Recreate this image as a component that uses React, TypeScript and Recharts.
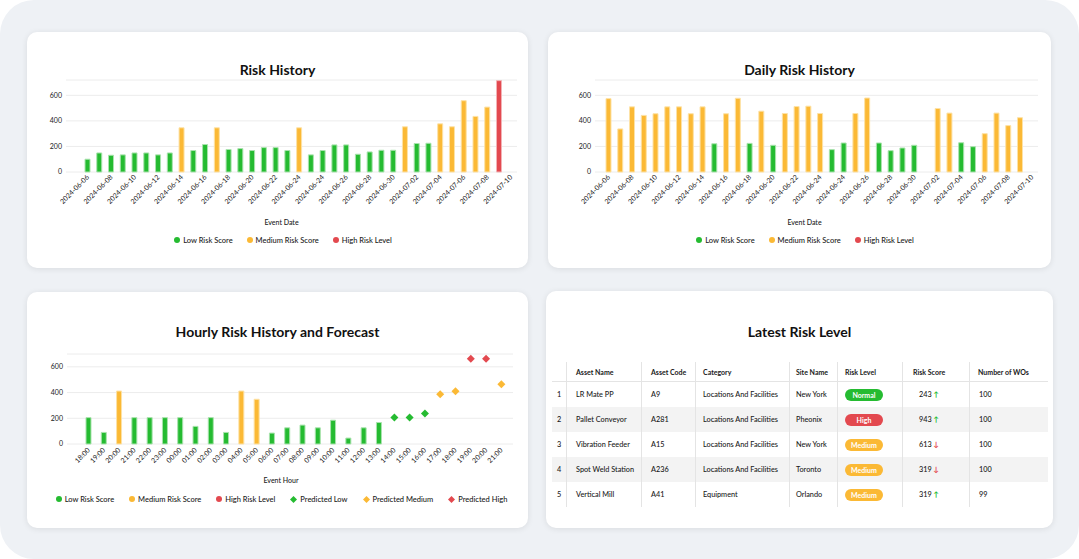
import {
  BarChart,
  Bar,
  ComposedChart,
  Scatter,
  XAxis,
  YAxis,
  CartesianGrid,
  Legend,
} from "recharts";

const FONT = "Lato, 'Open Sans', sans-serif";
const GREEN = "#25bb31";
const ORANGE = "#fbb935";
const RED = "#e3494f";
const TEXT = "#1a1a1a";
const GRID = "#ececec";

// date labels, one on every other slot of the daily charts
const dateTicks = [
  "2024-06-06", "2024-06-08", "2024-06-10", "2024-06-12", "2024-06-14",
  "2024-06-16", "2024-06-18", "2024-06-20", "2024-06-22", "2024-06-24",
  "2024-06-24", "2024-06-26", "2024-06-28", "2024-06-30", "2024-07-02",
  "2024-07-04", "2024-07-06", "2024-07-08", "2024-07-10",
];

// Risk History scores per slot
const riskHistoryScores = [
  100, 149, 131, 134, 149, 149, 134, 149, 346, 168, 215, 346, 176, 183, 168,
  191, 191, 168, 346, 134, 168, 212, 212, 139, 157, 170, 170, 354, 223, 225,
  377, 354, 558, 435, 508, 715,
];

// Daily Risk History scores per slot (null = no record)
const dailyRiskScores = [
  574, 337, 510, 443, 456, 510, 510, 456, 510, 221, 456, 577, 224, 476, 209,
  458, 512, 515, 458, 175, 227, 458, 579, 227, 167, 188, 209, null, 497, 461,
  229, 198, 300, 461, 363, 425,
];

// Hourly history + forecast
const hours = [
  "18:00", "19:00", "20:00", "21:00", "22:00", "23:00", "00:00", "01:00",
  "02:00", "03:00", "04:00", "05:00", "06:00", "07:00", "08:00", "09:00",
  "10:00", "11:00", "12:00", "13:00", "14:00", "15:00", "16:00", "17:00",
  "18:00", "19:00", "20:00", "21:00",
];
const hourlyActual = [
  205, 90, 412, 205, 205, 205, 205, 137, 205, 90, 412, 348, 85, 126, 147, 126,
  185, 46, 126, 167,
];
const hourlyForecast = [206, 206, 237, 386, 410, 664, 664, 464];

const yTicks = [0, 200, 400, 600];

const legendOrder = [
  "Low Risk Score", "Medium Risk Score", "High Risk Level",
  "Predicted Low", "Predicted Medium", "Predicted High",
];

// table
const tableHeaders = ["", "Asset Name", "Asset Code", "Category", "Site Name", "Risk Level", "Risk Score", "Number of WOs"];
const assetNames = ["LR Mate PP", "Pallet Conveyor", "Vibration Feeder", "Spot Weld Station", "Vertical Mill"];
const assetCodes = ["A9", "A281", "A15", "A236", "A41"];
const assetCategories = ["Locations And Facilities", "Locations And Facilities", "Locations And Facilities", "Locations And Facilities", "Equipment"];
const siteNames = ["New York", "Pheonix", "New York", "Toronto", "Orlando"];
const riskLevels = ["Normal", "High", "Medium", "Medium", "Medium"];
const riskScores = [243, 943, 613, 319, 319];
const riskTrends = ["up", "up", "down", "down", "up"];
const workOrders = [100, 100, 100, 100, 99];

const levelOf = (v: number | null) =>
  v == null ? null : v >= 600 ? "high" : v >= 300 ? "medium" : "low";

const byLevel = (v: number | null) => ({
  low: levelOf(v) === "low" ? v : null,
  medium: levelOf(v) === "medium" ? v : null,
  high: levelOf(v) === "high" ? v : null,
});

const slotRows = (scores: (number | null)[]) =>
  Array.from({ length: dateTicks.length * 2 - 1 }, (_, slot) => ({
    slot,
    ...byLevel(scores[slot] ?? null),
  }));

const riskHistoryRows = slotRows(riskHistoryScores);
const dailyRiskRows = slotRows(dailyRiskScores);

const hourlyRows = hours.map((hour, i) => {
  const actual = i < hourlyActual.length ? hourlyActual[i] : null;
  const fc = i >= hourlyActual.length ? hourlyForecast[i - hourlyActual.length] : null;
  const p = byLevel(fc);
  return { hour, ...byLevel(actual), predLow: p.low, predMedium: p.medium, predHigh: p.high };
});

const levelColor: Record<string, string> = { Normal: GREEN, High: RED, Medium: ORANGE };

const DateTick = ({ x, y, payload }: any) => {
  const label = payload.value % 2 === 0 ? dateTicks[payload.value / 2] : "";
  return (
    <g transform={`translate(${x},${y})`}>
      <text x={0} y={0} dy="0.35em" textAnchor="end" transform="rotate(-45)" fontSize={7} fill={TEXT}>
        {label}
      </text>
    </g>
  );
};

const HourTick = ({ x, y, payload }: any) => {
  const label = typeof payload.value === "number" ? hours[payload.value] : payload.value;
  return (
    <g transform={`translate(${x},${y})`}>
      <text x={0} y={0} dy="0.35em" textAnchor="end" transform="rotate(-45)" fontSize={7} fill={TEXT}>
        {label}
      </text>
    </g>
  );
};

const renderDiamond = (props: any) => {
  const { cx, cy, fill } = props;
  if (cx == null || cy == null || Number.isNaN(cy)) return <g />;
  const r = 4;
  return <path d={`M${cx},${cy - r}L${cx + r},${cy}L${cx},${cy + r}L${cx - r},${cy}Z`} fill={fill} />;
};

const LegendRow = ({ payload, shift, gap }: any) => {
  const items = [...(payload || [])].sort(
    (a: any, b: any) => legendOrder.indexOf(a.value) - legendOrder.indexOf(b.value)
  );
  return (
    <div
      style={{
        display: "flex",
        justifyContent: "center",
        alignItems: "center",
        height: 12,
        gap,
        paddingLeft: shift,
        fontFamily: FONT,
        fontSize: 7.5,
        fontWeight: 500,
        color: TEXT,
      }}
    >
      {items.map((item: any) => (
        <div key={item.value} style={{ display: "flex", alignItems: "center", gap: 3 }}>
          {item.type === "diamond" ? (
            <svg width={7} height={7}>
              <path d="M3.5,0L7,3.5L3.5,7L0,3.5Z" fill={item.color} />
            </svg>
          ) : (
            <span style={{ width: 6, height: 6, borderRadius: 3, background: item.color, display: "inline-block" }} />
          )}
          <span style={{ whiteSpace: "nowrap" }}>{item.value}</span>
        </div>
      ))}
    </div>
  );
};

const barProps = (fill: string, stroke: string) => ({
  stackId: "a",
  fill,
  stroke,
  strokeWidth: 1,
  barSize: 5,
  legendType: "circle" as const,
  isAnimationActive: false,
});

const DailyChart = ({ rows, width, yWidth, marginRight, padLeft, legendShift, titleDx }: any) => (
  <BarChart width={width} height={190} data={rows} margin={{ top: 4, right: marginRight, left: 0, bottom: 20 }}>
    <CartesianGrid vertical={false} stroke={GRID} />
    <XAxis
      dataKey="slot"
      interval={1}
      axisLine={false}
      tickLine={false}
      tickSize={4}
      tickMargin={0}
      height={62}
      padding={{ left: padLeft, right: 0 }}
      tick={<DateTick />}
      label={{ value: "Event Date", position: "insideBottom", offset: 9, dx: titleDx, fontSize: 7, fill: TEXT, fontWeight: 500 }}
    />
    <YAxis
      domain={[0, 720]}
      ticks={yTicks}
      axisLine={false}
      tickLine={false}
      tickSize={4}
      tickMargin={0}
      width={yWidth}
      tick={{ fontSize: 7, fill: TEXT }}
    />
    <Legend content={(p: any) => <LegendRow {...p} shift={legendShift} gap={14} />} />
    <Bar dataKey="low" name="Low Risk Score" {...barProps(GREEN, "#a9e3ad")} />
    <Bar dataKey="medium" name="Medium Risk Score" {...barProps(ORANGE, "#fde2a6")} />
    <Bar dataKey="high" name="High Risk Level" {...barProps(RED, "#f3b3b6")} />
  </BarChart>
);

const HourlyChart = () => (
  <ComposedChart width={501} height={170} data={hourlyRows} margin={{ top: 4, right: 15, left: 0, bottom: 15 }}>
    <CartesianGrid vertical={false} stroke={GRID} />
    <XAxis
      dataKey="hour"
      interval={0}
      axisLine={false}
      tickLine={false}
      tickSize={5}
      tickMargin={0}
      height={49}
      padding={{ left: 14, right: 4 }}
      tick={<HourTick />}
      label={{ value: "Event Hour", position: "insideBottom", offset: 10, dx: -9, fontSize: 7, fill: TEXT, fontWeight: 500 }}
    />
    <YAxis
      domain={[0, 700]}
      ticks={yTicks}
      axisLine={false}
      tickLine={false}
      tickSize={4}
      tickMargin={0}
      width={40}
      tick={{ fontSize: 7, fill: TEXT }}
    />
    <Legend content={(p: any) => <LegendRow {...p} shift={23} gap={15} />} />
    <Bar dataKey="low" name="Low Risk Score" {...barProps(GREEN, "#a9e3ad")} />
    <Bar dataKey="medium" name="Medium Risk Score" {...barProps(ORANGE, "#fde2a6")} />
    <Bar dataKey="high" name="High Risk Level" {...barProps(RED, "#f3b3b6")} />
    <Scatter dataKey="predLow" name="Predicted Low" fill={GREEN} shape={renderDiamond} legendType="diamond" isAnimationActive={false} />
    <Scatter dataKey="predMedium" name="Predicted Medium" fill={ORANGE} shape={renderDiamond} legendType="diamond" isAnimationActive={false} />
    <Scatter dataKey="predHigh" name="Predicted High" fill={RED} shape={renderDiamond} legendType="diamond" isAnimationActive={false} />
  </ComposedChart>
);

const Card = ({ left, top, width, height, title, titleCenter, children }: any) => (
  <div
    style={{
      position: "absolute",
      left,
      top,
      width,
      height,
      background: "#fff",
      borderRadius: 10,
      boxShadow: "0 1px 6px rgba(0,0,0,0.09)",
    }}
  >
    <div
      style={{
        position: "absolute",
        top: titleCenter - 9,
        left: 0,
        right: 0,
        textAlign: "center",
        fontSize: 14,
        fontWeight: 700,
        lineHeight: "18px",
        color: "#111",
      }}
    >
      {title}
    </div>
    {children}
  </div>
);

const colWidths = [14, 75, 54, 94, 48, 65, 67, 79];
const headPad = [0, 9, 9, 7, 6, 7, 10, 8];
const cellPad = [0, 9, 9, 7, 6, 7, 16, 9];
const LINE = "#e4e4e4";

const cellStyle = (c: number, pad: number[]) => ({
  width: colWidths[c],
  boxSizing: "border-box" as const,
  paddingLeft: pad[c],
  borderLeft: c === 0 ? "none" : `1px solid ${LINE}`,
  display: "flex",
  alignItems: "center",
  justifyContent: c === 0 ? "center" : "flex-start",
  whiteSpace: "nowrap" as const,
});

const RiskTable = () => (
  <div style={{ position: "absolute", left: 6, top: 71, width: 496, fontSize: 7.3, color: TEXT }}>
    <div style={{ display: "flex", height: 19, borderBottom: `1px solid ${LINE}`, fontWeight: 700, fontSize: 7 }}>
      {tableHeaders.map((h, c) => (
        <div key={c} style={cellStyle(c, headPad)}>{h}</div>
      ))}
    </div>
    {assetNames.map((name, r) => {
      const cells = [
        String(r + 1),
        name,
        assetCodes[r],
        assetCategories[r],
        siteNames[r],
        null,
        null,
        String(workOrders[r]),
      ];
      return (
        <div key={r} style={{ display: "flex", height: 25, background: r % 2 === 1 ? "#f3f3f3" : "#fff", fontWeight: 500 }}>
          {cells.map((v, c) => (
            <div key={c} style={cellStyle(c, cellPad)}>
              {c === 5 ? (
                <span
                  style={{
                    display: "inline-block",
                    width: 38,
                    height: 12,
                    lineHeight: "12px",
                    borderRadius: 6,
                    background: levelColor[riskLevels[r]],
                    color: "#fff",
                    textAlign: "center",
                    fontSize: 7,
                    fontWeight: 700,
                  }}
                >
                  {riskLevels[r]}
                </span>
              ) : c === 6 ? (
                <span>
                  {riskScores[r]}{" "}
                  <span style={{ color: riskTrends[r] === "up" ? GREEN : RED, fontWeight: 700 }}>
                    {riskTrends[r] === "up" ? "↑" : "↓"}
                  </span>
                </span>
              ) : (
                v
              )}
            </div>
          ))}
        </div>
      );
    })}
  </div>
);

export default function App() {
  return (
    <div
      style={{
        position: "absolute",
        left: 0,
        top: 0,
        width: 1079,
        height: 559,
        background: "#fff",
        overflow: "hidden",
        fontFamily: FONT,
        color: TEXT,
      }}
    >
      <div style={{ position: "absolute", inset: 0, background: "#eef1f5", borderRadius: 34 }} />

      <Card left={27} top={32} width={501} height={236} title="Risk History" titleCenter={38}>
        <div style={{ position: "absolute", left: 0, top: 44 }}>
          <DailyChart rows={riskHistoryRows} width={501} yWidth={39} marginRight={11} padLeft={16} legendShift={22} titleDx={-10} />
        </div>
      </Card>

      <Card left={548} top={32} width={503} height={236} title="Daily Risk History" titleCenter={38}>
        <div style={{ position: "absolute", left: 0, top: 44 }}>
          <DailyChart rows={dailyRiskRows} width={503} yWidth={47} marginRight={13} padLeft={8} legendShift={24} titleDx={-12} />
        </div>
      </Card>

      <Card left={27} top={292} width={501} height={236} title="Hourly Risk History and Forecast" titleCenter={40}>
        <div style={{ position: "absolute", left: 0, top: 58 }}>
          <HourlyChart />
        </div>
      </Card>

      <Card left={546} top={291} width={507} height={237} title="Latest Risk Level" titleCenter={41}>
        <RiskTable />
      </Card>
    </div>
  );
}
